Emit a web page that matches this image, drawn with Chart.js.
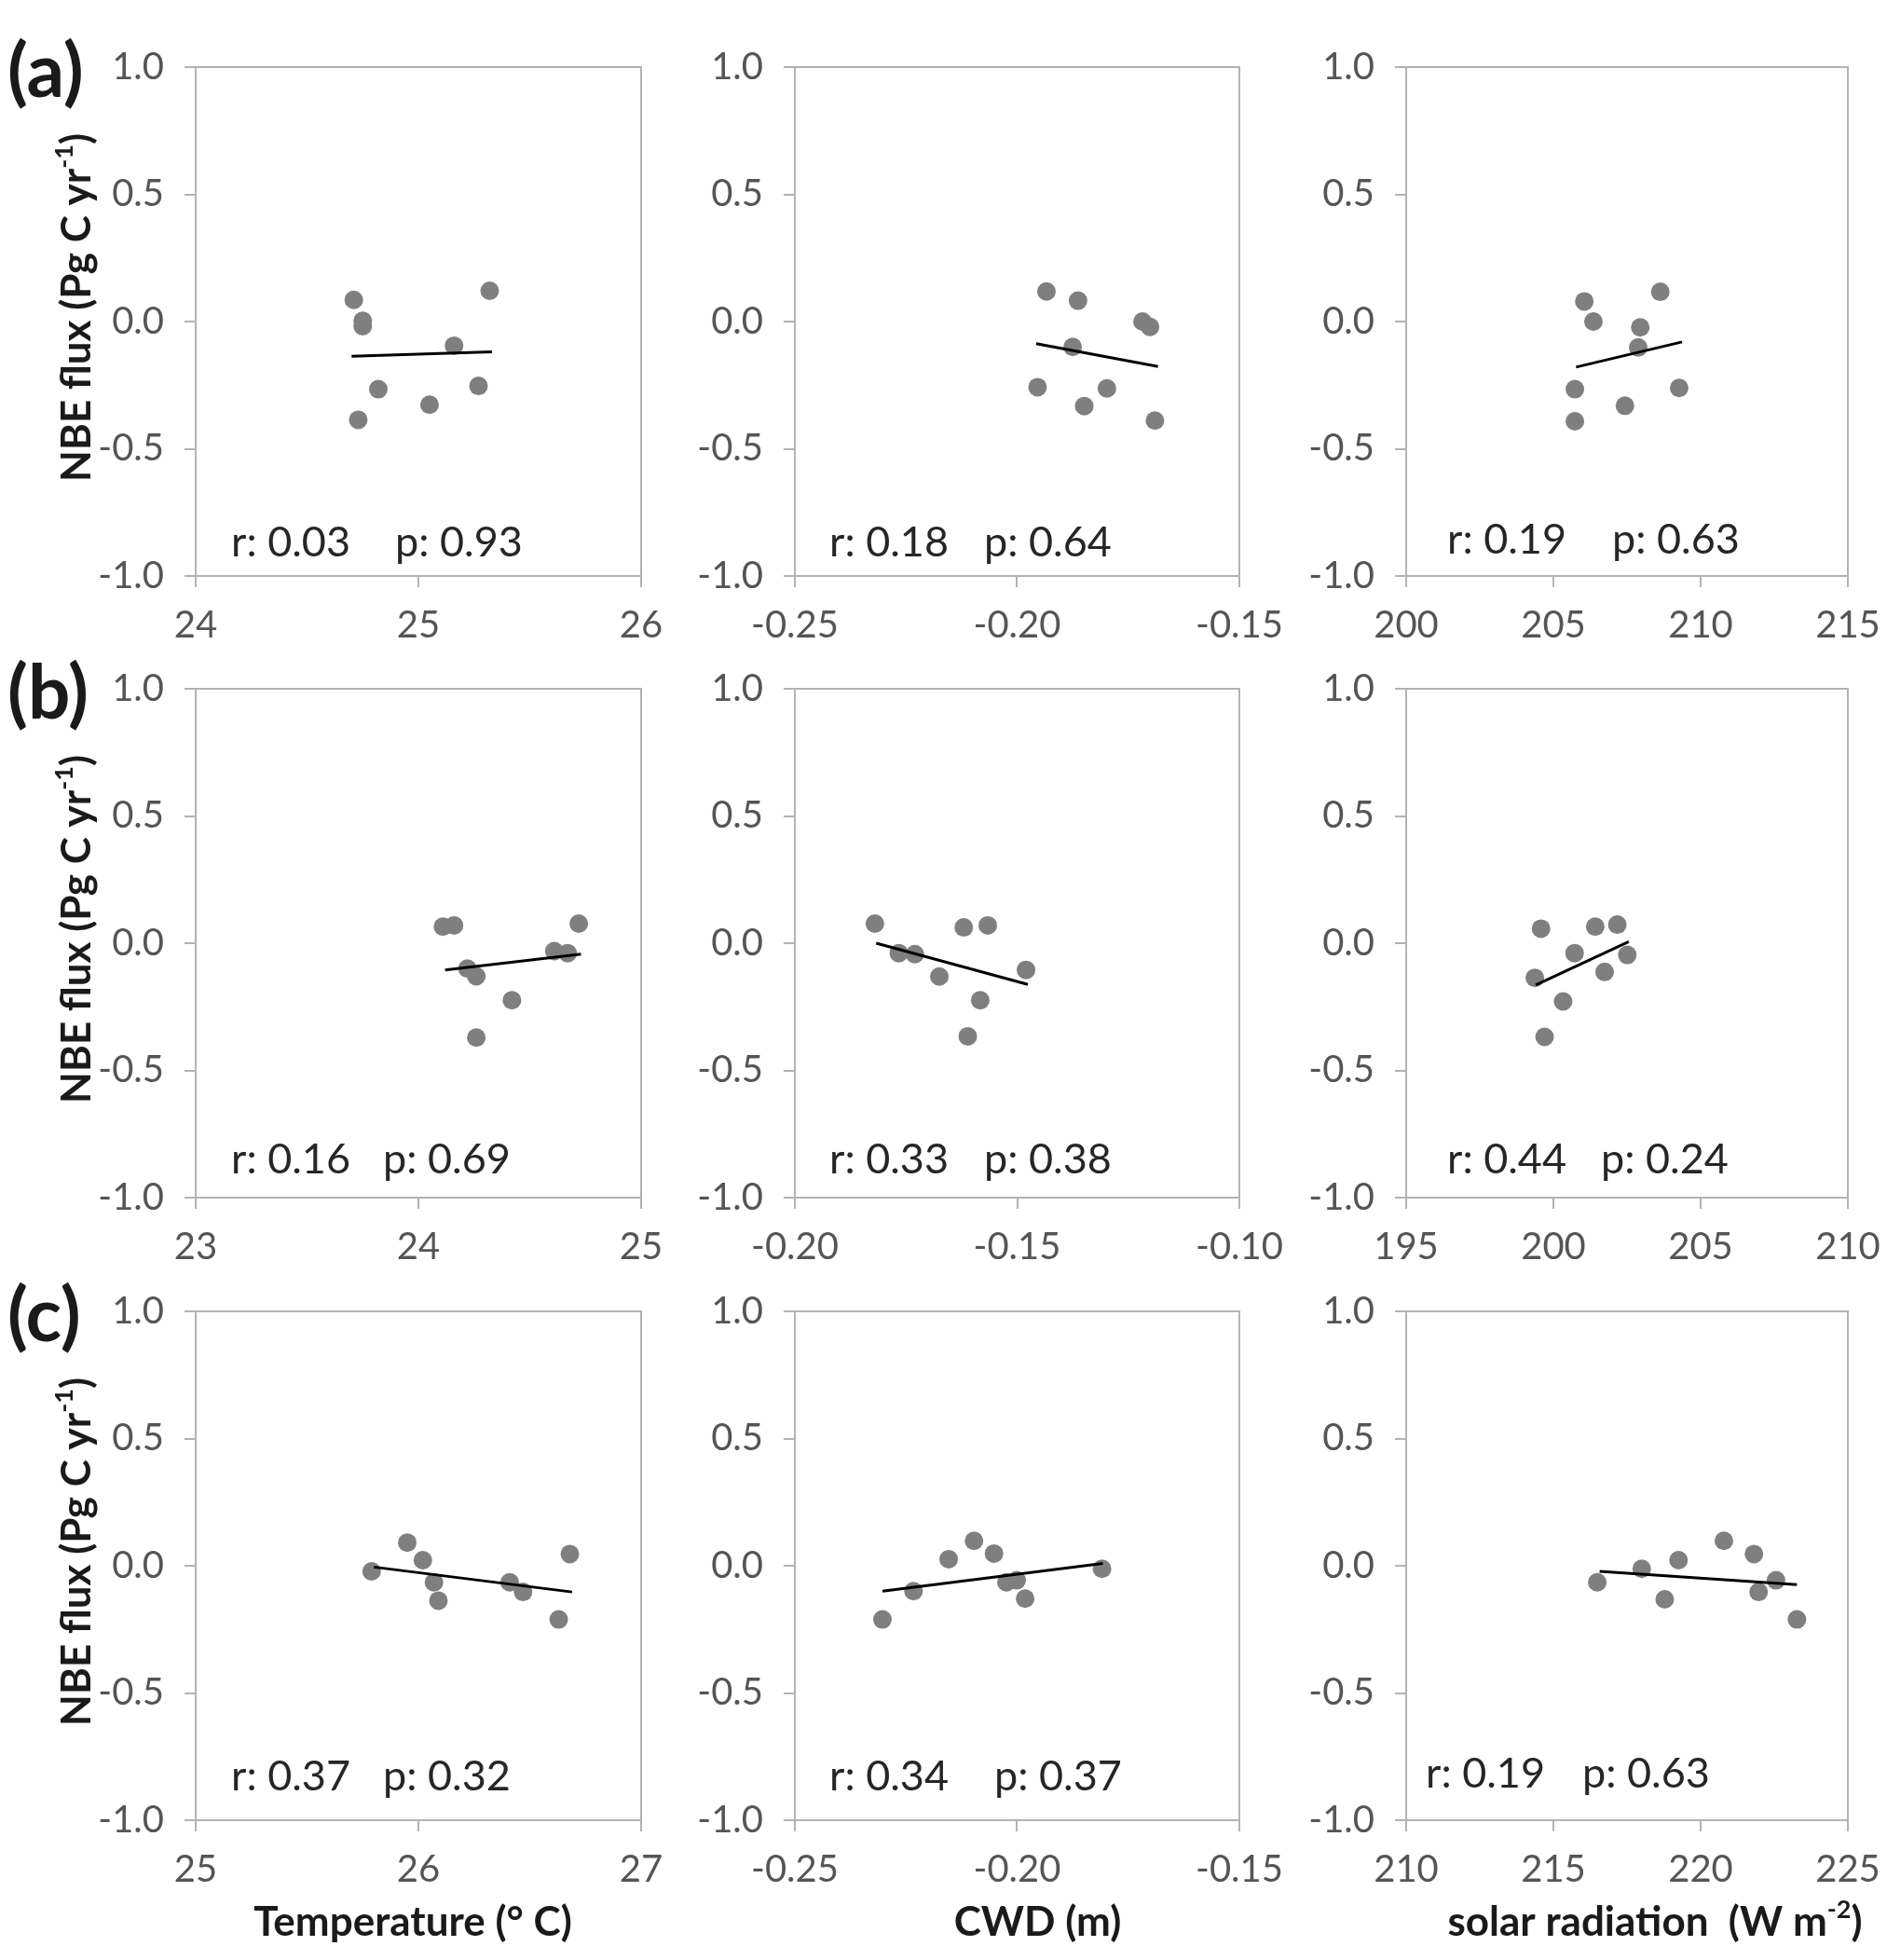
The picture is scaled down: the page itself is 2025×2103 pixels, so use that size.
<!DOCTYPE html>
<html><head><meta charset="utf-8">
<script src="https://cdn.jsdelivr.net/npm/chart.js@4.4.0/dist/chart.umd.min.js"></script>
<style>
html,body{margin:0;padding:0;background:#fff;overflow:hidden;width:2025px;height:2103px;}
canvas{position:absolute;}
.lbl{position:absolute;font-family:Lato,'Open Sans',sans-serif;font-weight:bold;font-size:80px;color:#1a1a1a;line-height:1;}
</style></head><body>
<script>
// ---------- DATA ----------
const panelLabels = ['(a)', '(b)', '(c)'];
const xTitles = ['Temperature (° C)', 'CWD (m)', 'solar radiation  (W m', ];
const yTitle = 'NBE flux (Pg C yr';

// row (a)
const tempA_x  = [24.71, 24.75, 24.75, 24.82, 24.73, 25.05, 25.16, 25.27, 25.32];
const tempA_y  = [0.085, 0.003, -0.018, -0.266, -0.386, -0.327, -0.095, -0.253, 0.121];
const tempA_tx = [24.70, 25.33];
const tempA_ty = [-0.136, -0.119];
const cwdA_x   = [-0.1934, -0.1863, -0.1718, -0.1701, -0.1875, -0.1954, -0.1798, -0.1849, -0.1690];
const cwdA_y   = [0.118, 0.082, 0.000, -0.021, -0.100, -0.258, -0.263, -0.332, -0.389];
const cwdA_tx  = [-0.1957, -0.1683];
const cwdA_ty  = [-0.087, -0.177];
const solA_x   = [206.05, 206.36, 207.95, 208.63, 207.88, 205.73, 209.27, 207.43, 205.73];
const solA_y   = [0.079, 0.000, -0.023, 0.117, -0.102, -0.266, -0.261, -0.331, -0.392];
const solA_tx  = [205.77, 209.37];
const solA_ty  = [-0.179, -0.080];

// row (b)
const tempB_x  = [24.11, 24.16, 24.22, 24.26, 24.42, 24.26, 24.61, 24.67, 24.72];
const tempB_y  = [0.065, 0.070, -0.100, -0.130, -0.224, -0.371, -0.031, -0.039, 0.077];
const tempB_tx = [24.12, 24.73];
const tempB_ty = [-0.105, -0.043];
const cwdB_x   = [-0.1820, -0.1766, -0.1730, -0.1675, -0.1620, -0.1566, -0.1583, -0.1611, -0.1480];
const cwdB_y   = [0.077, -0.039, -0.043, -0.131, 0.062, 0.070, -0.224, -0.366, -0.105];
const cwdB_tx  = [-0.1817, -0.1476];
const cwdB_ty  = [0.000, -0.162];
const solB_x   = [199.58, 201.42, 202.17, 200.72, 202.51, 201.74, 199.37, 200.33, 199.70];
const solB_y   = [0.057, 0.065, 0.073, -0.039, -0.046, -0.113, -0.136, -0.229, -0.368];
const solB_tx  = [199.40, 202.56];
const solB_ty  = [-0.164, 0.006];

// row (c)
const tempC_x  = [25.79, 25.95, 26.02, 26.07, 26.09, 26.41, 26.47, 26.63, 26.68];
const tempC_y  = [-0.022, 0.091, 0.022, -0.065, -0.137, -0.065, -0.103, -0.211, 0.046];
const tempC_tx = [25.80, 26.69];
const tempC_ty = [-0.005, -0.103];
const cwdC_x   = [-0.2303, -0.2233, -0.2154, -0.2097, -0.2052, -0.2024, -0.2001, -0.1982, -0.1809];
const cwdC_y   = [-0.211, -0.100, 0.026, 0.098, 0.048, -0.065, -0.057, -0.129, -0.012];
const cwdC_tx  = [-0.2303, -0.1807];
const cwdC_ty  = [-0.100, 0.009];
const solC_x   = [216.49, 218.00, 218.78, 219.25, 220.79, 221.81, 221.97, 222.56, 223.27];
const solC_y   = [-0.065, -0.012, -0.132, 0.022, 0.098, 0.046, -0.103, -0.057, -0.211];
const solC_tx  = [216.57, 223.27];
const solC_ty  = [-0.022, -0.074];

const rVals = ['0.03', '0.18', '0.19', '0.16', '0.33', '0.44', '0.37', '0.34', '0.19'];
const pVals = ['0.93', '0.64', '0.63', '0.69', '0.38', '0.24', '0.32', '0.37', '0.63'];

const xMin  = [24, -0.25, 200, 23, -0.20, 195, 25, -0.25, 210];
const xMax  = [26, -0.15, 215, 25, -0.10, 210, 27, -0.15, 225];
const xStep = [1, 0.05, 5, 1, 0.05, 5, 1, 0.05, 5];
const xDec  = [0, 2, 0, 0, 2, 0, 0, 2, 0];
const yMin = -1.0, yMax = 1.0, yStep = 0.5;

const panelsX  = [tempA_x, cwdA_x, solA_x, tempB_x, cwdB_x, solB_x, tempC_x, cwdC_x, solC_x];
const panelsY  = [tempA_y, cwdA_y, solA_y, tempB_y, cwdB_y, solB_y, tempC_y, cwdC_y, solC_y];
const trendsX  = [tempA_tx, cwdA_tx, solA_tx, tempB_tx, cwdB_tx, solB_tx, tempC_tx, cwdC_tx, solC_tx];
const trendsY  = [tempA_ty, cwdA_ty, solA_ty, tempB_ty, cwdB_ty, solB_ty, tempC_ty, cwdC_ty, solC_ty];

// ---------- LAYOUT ----------
const colLeft = [210, 853, 1509], colRight = [688, 1330, 1983];
const rowTop = [72, 739, 1407], rowBottom = [618, 1285, 1953];
const rDx = [38, 37, 44, 38, 37, 44, 38, 37, 21];
const pDx = [214, 203, 221, 201, 203, 209, 201, 214, 189];
const txtDy = [36, 36, 39, 41, 41, 41, 47, 47, 50];
const xTitleDx = [-6, 22, 30];
const FONT = "Lato, 'Open Sans', sans-serif";
const AXIS = '#b3b3b3';
const TICKC = '#555555';

function drawRich(ctx, segs, x, y, size) {
  let total = 0;
  segs.forEach(s => {
    ctx.font = (s[1] ? 'bold ' + Math.round(size * 0.62) : 'bold ' + size) + 'px ' + FONT;
    total += ctx.measureText(s[0]).width;
  });
  let cx = x - total / 2;
  ctx.textAlign = 'left';
  ctx.textBaseline = 'middle';
  segs.forEach(s => {
    ctx.font = (s[1] ? 'bold ' + Math.round(size * 0.62) : 'bold ' + size) + 'px ' + FONT;
    ctx.fillText(s[0], cx, s[1] ? y - size * 0.32 : y);
    cx += ctx.measureText(s[0]).width;
  });
}

const framePlugin = {
  id: 'frame',
  beforeDatasetsDraw(chart) {
    const a = chart.chartArea, ctx = chart.ctx;
    ctx.save();
    ctx.strokeStyle = AXIS; ctx.lineWidth = 2;
    ctx.strokeRect(a.left, a.top, a.right - a.left, a.bottom - a.top);
    ctx.restore();
  }
};

const textPlugin = {
  id: 'annot',
  afterDraw(chart, args, opts) {
    const i = opts.idx, a = chart.chartArea, ctx = chart.ctx;
    const row = Math.floor(i / 3), col = i % 3;
    ctx.save();
    ctx.fillStyle = '#262626';
    ctx.font = '45px ' + FONT;
    ctx.textAlign = 'left'; ctx.textBaseline = 'middle';
    ctx.fillText('r: ' + rVals[i], a.left + rDx[i], a.bottom - txtDy[i]);
    ctx.fillText('p: ' + pVals[i], a.left + pDx[i], a.bottom - txtDy[i]);
    ctx.fillStyle = '#1a1a1a';
    if (col === 0) {
      ctx.save();
      ctx.translate(a.left - 127, (a.top + a.bottom) / 2 - 15);
      ctx.rotate(-Math.PI / 2);
      drawRich(ctx, [[yTitle, false], ['-1', true], [')', false]], 0, 0, 44);
      ctx.restore();
    }
    if (row === 2) {
      const segs = col === 2 ? [[xTitles[2], false], ['-2', true], [')', false]] : [[xTitles[col], false]];
      drawRich(ctx, segs, (a.left + a.right) / 2 + xTitleDx[col], a.bottom + 110, 44);
    }
    ctx.restore();
  }
};

for (let r = 0; r < 3; r++) {
  const d = document.createElement('div');
  d.className = 'lbl';
  d.textContent = panelLabels[r];
  d.style.left = '8px';
  d.style.top = (rowTop[r] + 3 - 42) + 'px';
  document.body.appendChild(d);
}

for (let i = 0; i < 9; i++) {
  const row = Math.floor(i / 3), col = i % 3;
  const L = col === 0 ? 170 : 130;
  const R = 90;
  const T = 60;
  const B = row === 2 ? 150 : 85;
  const pw = colRight[col] - colLeft[col], ph = rowBottom[row] - rowTop[row];
  const cv = document.createElement('canvas');
  cv.width = L + pw + R; cv.height = T + ph + B;
  cv.style.left = (colLeft[col] - L) + 'px';
  cv.style.top = (rowTop[row] - T) + 'px';
  cv.style.width = cv.width + 'px'; cv.style.height = cv.height + 'px';
  document.body.appendChild(cv);

  const pts = panelsX[i].map((x, k) => ({ x: x, y: panelsY[i][k] }));
  const tr = trendsX[i].map((x, k) => ({ x: x, y: trendsY[i][k] }));

  new Chart(cv, {
    type: 'scatter',
    data: {
      datasets: [
        { type: 'line', data: tr, borderColor: '#000', borderWidth: 3, pointRadius: 0, fill: false, order: 0 },
        { type: 'scatter', data: pts, backgroundColor: '#7f7f7f', borderWidth: 0, pointRadius: 10, order: 1 }
      ]
    },
    options: {
      responsive: false, animation: false, devicePixelRatio: 1,
      layout: { padding: { top: T, right: R, left: 0, bottom: 0 } },
      plugins: { legend: { display: false }, tooltip: { enabled: false }, annot: { idx: i } },
      scales: {
        x: {
          type: 'linear', min: xMin[i], max: xMax[i],
          ticks: { stepSize: xStep[i], color: TICKC, font: { family: FONT, size: 40 }, padding: 17,
                   callback: v => Number(v).toFixed(xDec[i]) },
          grid: { drawOnChartArea: false, drawTicks: true, tickLength: 12, color: AXIS, lineWidth: 2 },
          border: { display: true, color: AXIS, width: 2 },
          afterFit: s => { s.height = B; }
        },
        y: {
          type: 'linear', min: yMin, max: yMax,
          ticks: { stepSize: yStep, color: TICKC, font: { family: FONT, size: 40 }, padding: 22,
                   callback: v => Number(v).toFixed(1) },
          grid: { drawOnChartArea: false, drawTicks: true, tickLength: 12, color: AXIS, lineWidth: 2 },
          border: { display: true, color: AXIS, width: 2 },
          afterFit: s => { s.width = L; }
        }
      }
    },
    plugins: [framePlugin, textPlugin]
  });
}
</script>
</body></html>
